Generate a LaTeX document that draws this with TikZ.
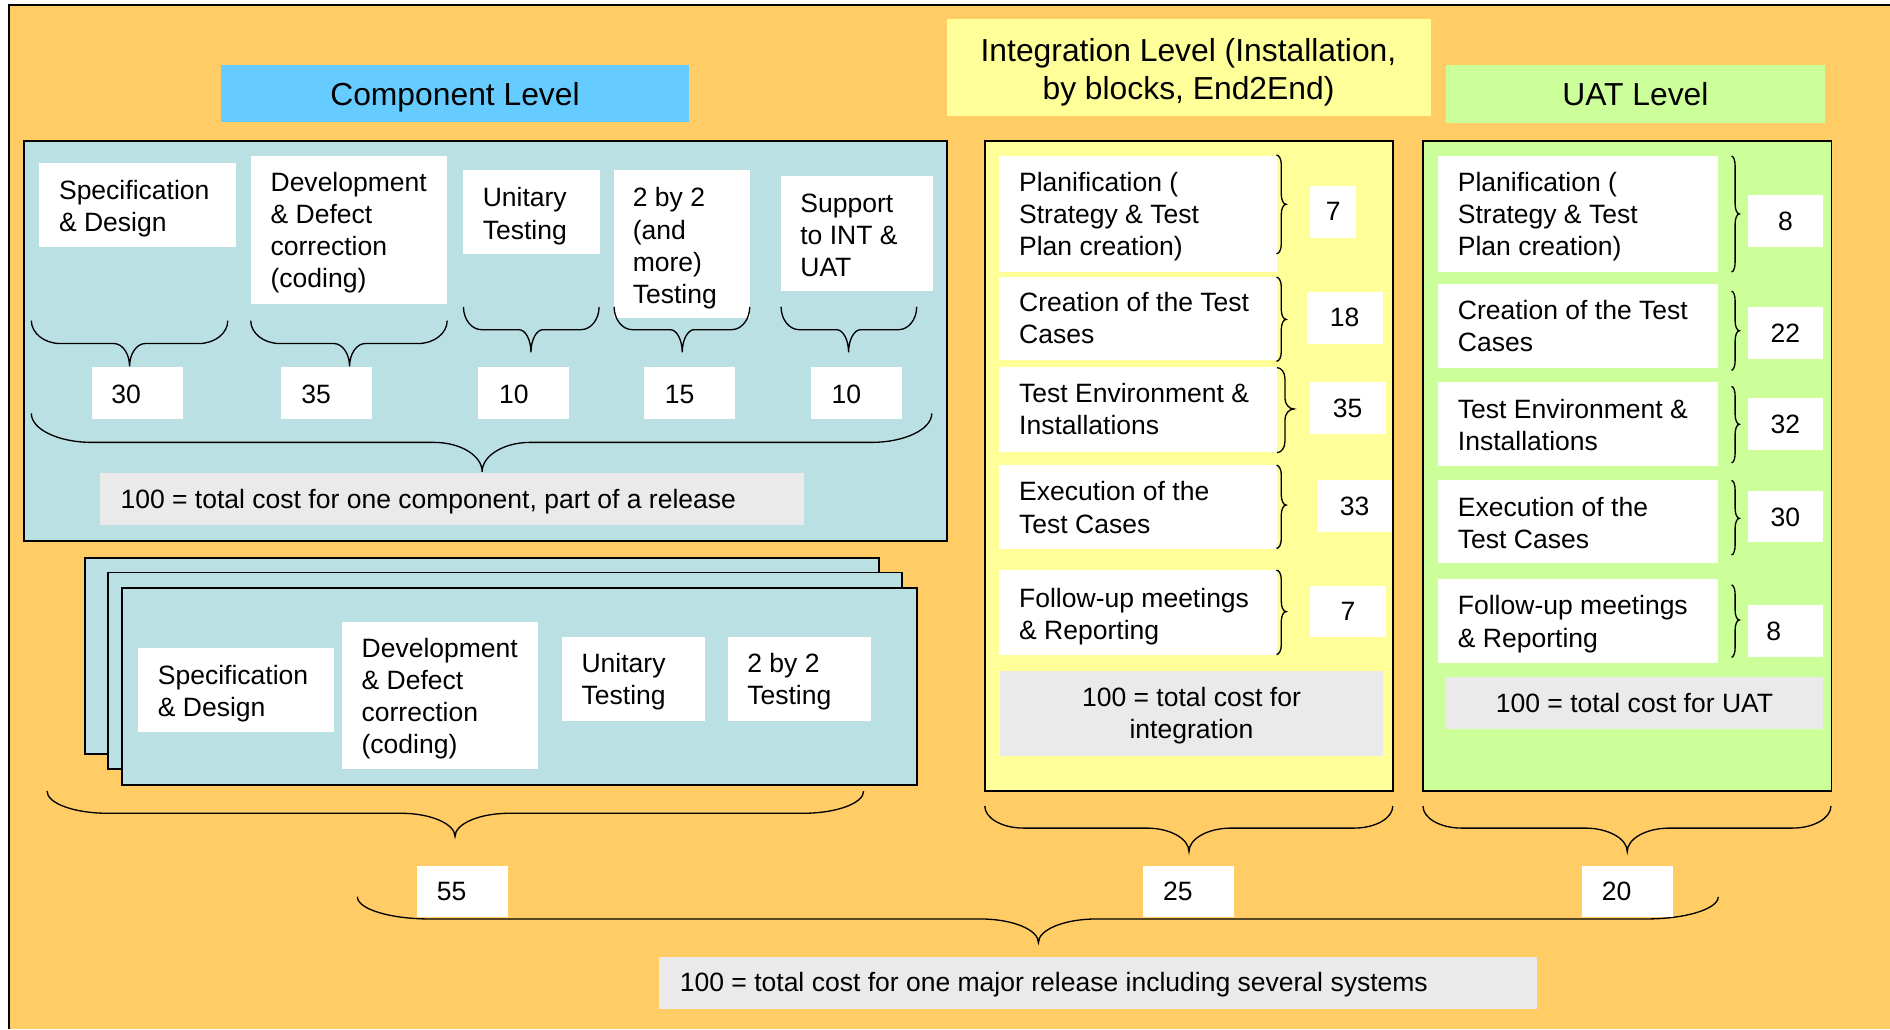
\documentclass[tikz,border=0pt]{standalone}
\usepackage{fontspec}
\setmainfont{Liberation Sans}
\definecolor{corange}{HTML}{FFCC66}
\definecolor{cteal}{HTML}{BBE0E3}
\definecolor{cyellow}{HTML}{FFFF99}
\definecolor{cgreen}{HTML}{CCFF99}
\definecolor{cblue}{HTML}{66CCFF}
\definecolor{cgray}{HTML}{EAEAEA}
\newcommand\bx[6]{\node[#1, minimum width={#4-#2}, minimum height={#5-#3}] (#6) at ({(#2+#4)/2},{(#3+#5)/2})}
\newcommand\tl[4]{\node[txt, anchor=north west] (#1) at (#2,{#3-18.62}) {\strut #4};}
\newcommand\tb[4]{\node[txt, anchor=base west] (#1) at (#2,#3) {#4};}
\newcommand\hbr[8]{\draw[brc] (#1,#4) .. controls (#1,{#4+0.55*(#5-#4)}) and ({#1+0.45*#7},#5) .. ({#1+#7},#5) -- ({#3-#8},#5) .. controls ({#3-0.45*#8},#5) and (#3,{#5+0.45*(#6-#5)}) .. (#3,#6) .. controls (#3,{#5+0.45*(#6-#5)}) and ({#3+0.45*#8},#5) .. ({#3+#8},#5) -- ({#2-#7},#5) .. controls ({#2-0.45*#7},#5) and (#2,{#4+0.55*(#5-#4)}) .. (#2,#4);}
\newcommand\vbr[7]{\draw[brc] (#1,#4) .. controls ({#1+0.55*(#2-#1)},#4) and (#2,{#4+0.45*#7}) .. (#2,{#4+#7}) -- (#2,{#5-#7}) .. controls (#2,{#5-0.45*#7}) and ({#2+0.45*(#3-#2)},#5) .. (#3,#5) .. controls ({#2+0.45*(#3-#2)},#5) and (#2,{#5+0.45*#7}) .. (#2,{#5+#7}) -- (#2,{#6-#7}) .. controls (#2,{#6-0.45*#7}) and ({#1+0.55*(#2-#1)},#6) .. (#1,#6);}
\begin{document}
\begin{tikzpicture}[x=1pt,y=-1pt,
  box/.style={rectangle, inner sep=0pt, outer sep=0pt, draw=none},
  wbox/.style={box, fill=white},
  numbox/.style={box, fill=white, font=\fontsize{22}{26.6}\selectfont, text depth=0pt},
  gbox/.style={box, fill=cgray, font=\fontsize{22}{26.6}\selectfont, text depth=0pt},
  hbox/.style={box, font=\fontsize{26.4}{31.6}\selectfont, text depth=0pt},
  panel/.style={box, draw=black, line width=1.5pt},
  txt/.style={inner sep=0pt, outer sep=0pt, font=\fontsize{22}{26.6}\selectfont, align=left},
  hdr/.style={inner sep=0pt, outer sep=0pt, font=\fontsize{26.4}{31.6}\selectfont, align=center},
  brc/.style={line width=1.1pt, black}]
\useasboundingbox (0,0) rectangle (1568,854);
\fill[white] (0,0) rectangle (1568,854);
\fill[corange] (7.7,4) rectangle (1568,854);
\draw[line width=1.6pt] (7.7,854) -- (7.7,4) -- (1568,4);

% headers
\bx{hbox, fill=cblue}{183}{54}{572}{101.5}{hcomp} {Component Level};
\bx{hbox, fill=cyellow}{785.5}{16}{1187}{96}{hint} {};
\node[hdr, anchor=north] (hintt) at (986,{51.2-22.12}) {\strut Integration Level (Installation,\\by blocks, End2End)};
\bx{hbox, fill=cgreen}{1199.5}{54}{1514}{102}{huat} {UAT Level};

% panels
\bx{panel, fill=cteal}{20}{116.7}{785.5}{448.5}{pcomp} {};
\bx{panel, fill=cyellow}{817}{116.7}{1155.5}{656}{pint} {};
\bx{panel, fill=cgreen}{1180.5}{116.7}{1519.5}{656}{puat} {};
\bx{panel, fill=cteal}{70.5}{462.6}{729.5}{625.8}{ps1} {};
\bx{panel, fill=cteal}{89.5}{475}{748}{638.2}{ps2} {};
\bx{panel, fill=cteal}{101.5}{487.5}{760.5}{651.2}{ps3} {};

% component items
\bx{wbox}{32.5}{135.3}{195.5}{204.6}{c1} {};
\tl{c1t}{49}{165.3}{Specification\\\& Design}
\bx{wbox}{208}{129.5}{371}{252}{c2} {};
\tl{c2t}{224.5}{158.6}{Development\\\& Defect\\correction\\(coding)}
\bx{wbox}{384}{141}{497.5}{210.4}{c3} {};
\tl{c3t}{400.5}{171.7}{Unitary\\Testing}
\bx{wbox}{509.4}{141}{622.5}{263.7}{c4} {};
\tl{c4t}{525}{171.7}{2 by 2\\(and\\more)\\Testing}
\bx{wbox}{648}{146}{774}{241.8}{c5} {};
\tl{c5t}{664}{176}{Support\\to INT \&\\UAT}

% component braces
\hbr{26}{189}{107.5}{266}{285}{304}{24}{13}
\hbr{208}{371}{290}{266}{285}{304}{24}{13}
\hbr{384.5}{497}{440.5}{254.6}{273.5}{292.4}{15}{10}
\hbr{509.5}{622}{566}{254.6}{273.5}{292.4}{15}{10}
\hbr{648}{760.5}{704}{254.6}{273.5}{292.4}{15}{10}
\hbr{26}{773}{400}{343}{367}{391.4}{50}{40}

% component numbers
\bx{wbox}{76.5}{304.5}{152}{347.5}{n1} {};
\tb{n1t}{92.5}{334.7}{30}
\bx{wbox}{233}{304.5}{308.5}{347.5}{n2} {};
\tb{n2t}{250}{334.7}{35}
\bx{wbox}{396.5}{304.5}{472}{347.5}{n3} {};
\tb{n3t}{414}{334.7}{10}
\bx{wbox}{534.5}{304.5}{610}{347.5}{n4} {};
\tb{n4t}{551.5}{334.7}{15}
\bx{wbox}{673}{304.5}{748.5}{347.5}{n5} {};
\tb{n5t}{690}{334.7}{10}
\bx{gbox}{83}{392}{666.6}{435.6}{gcomp} {};
\tb{gcompt}{100}{422}{100 = total cost for one component, part of a release}

% stacked component items
\bx{wbox}{114.5}{537.6}{277.5}{607}{s1} {};
\tl{s1t}{131}{567.5}{Specification\\\& Design}
\bx{wbox}{283.5}{516}{446.5}{638}{s2} {};
\tl{s2t}{300}{545.3}{Development\\\& Defect\\correction\\(coding)}
\bx{wbox}{466.5}{528.5}{585}{598}{s3} {};
\tl{s3t}{482.5}{558}{Unitary\\Testing}
\bx{wbox}{604}{528.5}{723}{598}{s4} {};
\tl{s4t}{620}{558}{2 by 2\\Testing}

% integration items
\bx{wbox}{829}{129.5}{1059.5}{226}{i1} {};
\tl{i1t}{845.5}{158.6}{Planification (\\Strategy \& Test\\Plan creation)}
\bx{wbox}{829}{230}{1059.5}{299}{i2} {};
\tl{i2t}{845.5}{258.4}{Creation of the Test\\Cases}
\bx{wbox}{829}{304.5}{1059.5}{375}{i3} {};
\tl{i3t}{845.5}{334}{Test Environment \&\\Installations}
\bx{wbox}{829}{386}{1059.5}{455.5}{i4} {};
\tl{i4t}{845.5}{415.6}{Execution of the\\Test Cases}
\bx{wbox}{829}{473}{1059.5}{543}{i5} {};
\tl{i5t}{845.5}{503.8}{Follow-up meetings\\\& Reporting}
\vbr{1059}{1063}{1067}{128.6}{169.5}{210.5}{8}
\vbr{1059}{1063}{1067}{230}{265}{299.8}{8}
\vbr{1059.5}{1066}{1073.5}{305}{339.3}{375.5}{9}
\vbr{1059}{1063}{1067}{386}{419}{455}{8}
\vbr{1059}{1063}{1067}{473}{507.4}{543}{8}
\bx{numbox}{1087}{154.3}{1125}{197.2}{in1} {7};
\bx{numbox}{1084}{242}{1147}{285}{in2} {18};
\bx{numbox}{1086.5}{317}{1149.5}{360}{in3} {35};
\bx{numbox}{1092.5}{398}{1155}{441.5}{in4} {33};
\bx{numbox}{1087}{486}{1149.5}{528.7}{in5} {7};
\bx{gbox}{829.5}{556.7}{1147.5}{627}{gint} {};
\node[txt, align=center, anchor=north] (gintt) at (988.5,{586.2-18.62}) {\strut 100 = total cost for\\integration};

% UAT items
\bx{wbox}{1193}{129.5}{1425.5}{226}{u1} {};
\tl{u1t}{1209.5}{158.6}{Planification (\\Strategy \& Test\\Plan creation)}
\bx{wbox}{1193}{235.8}{1425.5}{305}{u2} {};
\tl{u2t}{1209.5}{264.8}{Creation of the Test\\Cases}
\bx{wbox}{1193}{317.2}{1425.5}{387}{u3} {};
\tl{u3t}{1209.5}{347}{Test Environment \&\\Installations}
\bx{wbox}{1193}{398}{1425.5}{467.3}{u4} {};
\tl{u4t}{1209.5}{428.4}{Execution of the\\Test Cases}
\bx{wbox}{1193}{480.6}{1425.5}{549.8}{u5} {};
\tl{u5t}{1209.5}{510.2}{Follow-up meetings\\\& Reporting}
\vbr{1436.5}{1439.5}{1443}{129.5}{177.5}{225.6}{8}
\vbr{1436.5}{1439.5}{1443}{241.6}{274.4}{307.2}{8}
\vbr{1436.5}{1439.5}{1443}{320.6}{352}{384}{8}
\vbr{1436.5}{1439.5}{1443}{398.6}{430}{460.4}{8}
\vbr{1436.5}{1439.5}{1443}{485.3}{514.4}{545.3}{8}
\bx{numbox}{1450}{161.8}{1512.5}{204.6}{un1} {8};
\bx{numbox}{1450}{255}{1512.5}{297.5}{un2} {22};
\bx{numbox}{1450}{330.4}{1512.5}{373}{un3} {32};
\bx{numbox}{1450}{407.5}{1512.5}{450}{un4} {30};
\bx{numbox}{1450}{502}{1512.5}{544.8}{un5} {};
\tb{un5t}{1465.5}{531.5}{8}
\bx{gbox}{1199.5}{562}{1512.5}{604.8}{guat} {100 = total cost for UAT};

% lower braces
\hbr{39}{716.5}{377.5}{656.3}{674.7}{694}{50}{45}
\hbr{817}{1155.5}{986.4}{668.7}{687}{706.5}{32}{35}
\hbr{1180.5}{1519}{1350}{668.7}{687}{706.5}{32}{35}
\hbr{296.5}{1425.5}{861.5}{744}{762.4}{782}{60}{48}

% totals
\bx{wbox}{346}{718.5}{421.5}{761}{t1} {};
\tb{t1t}{362.5}{747.2}{55}
\bx{wbox}{948.5}{718.5}{1024}{761}{t2} {};
\tb{t2t}{965}{747.2}{25}
\bx{wbox}{1312.5}{718.5}{1388}{761}{t3} {};
\tb{t3t}{1329}{747.2}{20}
\bx{gbox}{546.5}{794}{1275}{837}{gall} {};
\tb{gallt}{564}{822.7}{100 = total cost for one major release including several systems}
\end{tikzpicture}
\end{document}
